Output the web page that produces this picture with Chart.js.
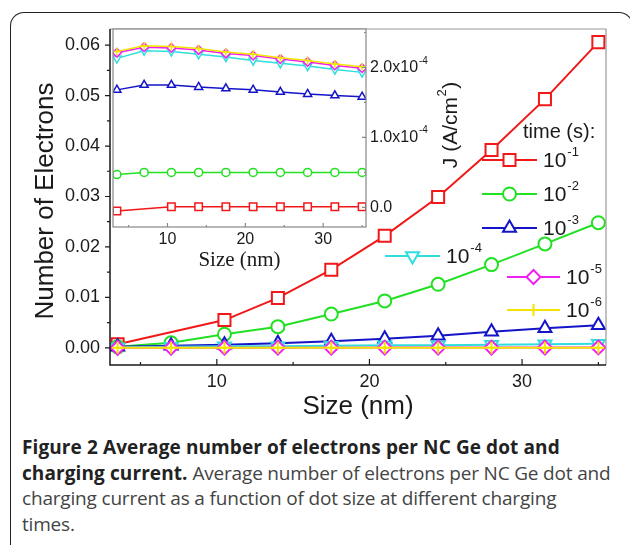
<!DOCTYPE html>
<html>
<head>
<meta charset="utf-8">
<script src="https://cdn.jsdelivr.net/npm/chart.js@4.4.1/dist/chart.umd.min.js"></script>
<style>
  body { margin: 0; background: #fff; width: 630px; height: 545px; overflow: hidden; position: relative; }
  #frame { position: absolute; left: 10px; top: 12px; width: 623px; height: 545px; border: 1.5px solid #222;
           border-bottom: none; border-top-left-radius: 14px; border-top-right-radius: 14px; box-sizing: border-box; }
  canvas { position: absolute; left: 0; top: 0; }
  #caption { position: absolute; left: 22px; top: 435px; font-family: "Open Sans", sans-serif; font-size: 19px;
             line-height: 25.5px; color: #444; white-space: nowrap; letter-spacing: -0.18px; }
  #caption b { color: #222; letter-spacing: 0.1px; }
</style>
</head>
<body>
<div id="frame"></div>
<canvas id="main" width="630" height="420"></canvas>
<canvas id="inset" width="630" height="420"></canvas>
<div id="caption"><b>Figure 2 Average number of electrons per NC Ge dot and<br>charging current.</b> Average number of electrons per NC Ge dot and<br>charging current as a function of dot size at different charging<br>times.</div>
<script>
// dot size (nm)
const sizes = [3.5, 7, 10.5, 14, 17.5, 21, 24.5, 28, 31.5, 35];
// charging time exponents, 10^-1 ... 10^-6 s
const timeExps = ['-1', '-2', '-3', '-4', '-5', '-6'];

// average number of electrons per dot (main plot), null = no point
const elecT1 = [0.0007, null, 0.0055, 0.0099, 0.0155, 0.0222, 0.0299, 0.0392, 0.0493, 0.0606];
const elecT2 = [0.0002, 0.0010, 0.0027, 0.0042, 0.0067, 0.0093, 0.0126, 0.0165, 0.0206, 0.0248];
const elecT3 = [0.0002, 0.0004, 0.0006, 0.0009, 0.0013, 0.0018, 0.0024, 0.0032, 0.0039, 0.0045];
const elecT4 = [0.0001, 0.0002, 0.0003, 0.0003, 0.0004, 0.0005, 0.0005, 0.0006, 0.0007, 0.0008];
const elecT5 = [0.00002, 0.00003, 0.00003, 0.00004, 0.00004, 0.00005, 0.00005, 0.00006, 0.00007, 0.00008];
const elecT6 = [0.0, 0.0, 0.0, 0.0, 0.0, 0.00001, 0.00001, 0.00001, 0.00001, 0.00001];

// charging current J in A/cm^2 (inset)
const currT1 = [-0.05e-4, null, 0.01e-4, 0.01e-4, 0.01e-4, 0.01e-4, 0.01e-4, 0.01e-4, 0.01e-4, 0.01e-4];
const currT2 = [0.47e-4, 0.50e-4, 0.50e-4, 0.50e-4, 0.50e-4, 0.50e-4, 0.50e-4, 0.50e-4, 0.50e-4, 0.50e-4];
const currT3 = [1.68e-4, 1.75e-4, 1.75e-4, 1.72e-4, 1.70e-4, 1.68e-4, 1.65e-4, 1.62e-4, 1.60e-4, 1.58e-4];
const currT4 = [2.13e-4, 2.24e-4, 2.23e-4, 2.19e-4, 2.15e-4, 2.10e-4, 2.06e-4, 2.02e-4, 1.97e-4, 1.93e-4];
const currT5 = [2.21e-4, 2.29e-4, 2.28e-4, 2.25e-4, 2.20e-4, 2.17e-4, 2.12e-4, 2.08e-4, 2.03e-4, 1.99e-4];
const currT6 = [2.23e-4, 2.31e-4, 2.30e-4, 2.27e-4, 2.22e-4, 2.19e-4, 2.14e-4, 2.10e-4, 2.05e-4, 2.01e-4];

const xTicks = [10, 20, 30];
const yTicks = [0, 0.01, 0.02, 0.03, 0.04, 0.05, 0.06];
const jTicks = [0, 1e-4, 2e-4];
const jTickLabels = [['0.0', ''], ['1.0x10', '-4'], ['2.0x10', '-4']];

const elecSeries = [elecT1, elecT2, elecT3, elecT4, elecT5, elecT6];
const currSeries = [currT1, currT2, currT3, currT4, currT5, currT6];

const styles = [
  { color: '#f01818', shape: 'rect', r: 8.5, rot: 0 },
  { color: '#22e022', shape: 'circle', r: 6.5, rot: 0 },
  { color: '#1414c8', shape: 'triangle', r: 7.5, rot: 0 },
  { color: '#30dede', shape: 'triangle', r: 7.5, rot: 180 },
  { color: '#f020f0', shape: 'rectRot', r: 7, rot: 0 },
  { color: '#f2e600', shape: 'cross', r: 6, rot: 0 }
];

const black = '#1a1a1a';
const sans = '"Liberation Sans", Arial, sans-serif';

function makeSet(vals, i, k, lw) {
  const st = styles[i];
  return {
    data: sizes.map((x, j) => ({ x: x, y: vals[j] })).filter(p => p.y !== null),
    borderColor: st.color,
    borderWidth: lw,
    pointStyle: st.shape,
    pointRadius: st.r * k,
    pointRotation: st.rot,
    pointBorderColor: st.color,
    pointBackgroundColor: '#fff',
    pointBorderWidth: lw,
    tension: 0,
    order: 5 - i
  };
}

function drawPow(ctx, base, exp, x, y, size, align) {
  ctx.font = size + 'px ' + sans;
  const bw = ctx.measureText(base).width;
  const ss = Math.round(size * 0.62);
  ctx.font = ss + 'px ' + sans;
  const ew = exp ? ctx.measureText(exp).width + 1 : 0;
  let x0 = x;
  if (align === 'center') x0 = x - (bw + ew) / 2;
  if (align === 'right') x0 = x - bw - ew;
  ctx.textAlign = 'left';
  ctx.textBaseline = 'middle';
  ctx.font = size + 'px ' + sans;
  ctx.fillText(base, x0, y);
  if (exp) {
    ctx.font = ss + 'px ' + sans;
    ctx.fillText(exp, x0 + bw + 1, y - size * 0.42);
  }
}

function marker(ctx, i, x, y, k, lw) {
  const st = styles[i];
  ctx.save();
  ctx.strokeStyle = st.color;
  ctx.fillStyle = '#fff';
  ctx.lineWidth = lw;
  Chart.helpers.drawPoint(ctx, { pointStyle: st.shape, radius: st.r * k, rotation: st.rot, borderWidth: lw }, x, y);
  ctx.restore();
}

// where the hand-placed legend entries sit
const legendSpots = [
  { x1: 482, x2: 537, y: 160 },
  { x1: 482, x2: 537, y: 194 },
  { x1: 482, x2: 537, y: 228 },
  { x1: 385, x2: 440, y: 256 },
  { x1: 507, x2: 560, y: 277 },
  { x1: 507, x2: 560, y: 310 }
];

const mainDeco = {
  id: 'mainDeco',
  afterDatasetsDraw(chart) {
    const ctx = chart.ctx;
    const a = chart.chartArea;
    const xs = chart.scales.x, ys = chart.scales.y;
    ctx.save();
    // box: gray top/right, black left/bottom
    ctx.lineWidth = 1.2;
    ctx.strokeStyle = '#999';
    ctx.beginPath();
    ctx.moveTo(a.left, a.top); ctx.lineTo(a.right, a.top); ctx.lineTo(a.right, a.bottom);
    ctx.stroke();
    ctx.strokeStyle = black;
    ctx.lineWidth = 1.5;
    ctx.beginPath();
    ctx.moveTo(a.left, a.top); ctx.lineTo(a.left, a.bottom); ctx.lineTo(a.right, a.bottom);
    ctx.stroke();
    // ticks
    ctx.lineWidth = 1.2;
    ctx.beginPath();
    [5, 10, 15, 20, 25, 30, 35].forEach(v => {
      const px = xs.getPixelForValue(v);
      ctx.moveTo(px, a.bottom); ctx.lineTo(px, a.bottom - (v % 10 === 0 ? 6 : 3));
    });
    for (let v = 0; v <= 0.0601; v += 0.005) {
      const py = ys.getPixelForValue(v);
      const major = Math.round(v * 1000) % 10 === 0;
      ctx.moveTo(a.left, py); ctx.lineTo(a.left - (major ? 5 : 3), py);
    }
    ctx.stroke();

    // axis titles
    ctx.fillStyle = black;
    ctx.font = '26px ' + sans;
    ctx.textAlign = 'center';
    ctx.textBaseline = 'middle';
    ctx.fillText('Size (nm)', (a.left + a.right) / 2, 407);
    ctx.save();
    ctx.translate(46, 201);
    ctx.rotate(-Math.PI / 2);
    ctx.fillText('Number of Electrons', 0, 0);
    ctx.restore();

    // legend
    ctx.font = '20px ' + sans;
    ctx.textAlign = 'left';
    ctx.fillText('time (s):', 523, 132);
    legendSpots.forEach((sp, i) => {
      ctx.strokeStyle = styles[i].color;
      ctx.lineWidth = 2.2;
      ctx.beginPath();
      ctx.moveTo(sp.x1, sp.y); ctx.lineTo(sp.x2, sp.y);
      ctx.stroke();
      marker(ctx, i, (sp.x1 + sp.x2) / 2, sp.y, 1, 2);
      ctx.fillStyle = black;
      drawPow(ctx, '10', timeExps[i], sp.x2 + 6, sp.y + 1, 21, 'left');
    });
    ctx.restore();
  }
};

const insetDeco = {
  id: 'insetDeco',
  beforeDatasetsDraw(chart) {
    const ctx = chart.ctx, a = chart.chartArea;
    ctx.save();
    ctx.fillStyle = '#fff';
    ctx.fillRect(a.left, a.top, a.right - a.left, a.bottom - a.top);
    ctx.restore();
  },
  afterDatasetsDraw(chart) {
    const ctx = chart.ctx, a = chart.chartArea;
    const xs = chart.scales.x, ys = chart.scales.y;
    ctx.save();
    ctx.strokeStyle = '#888';
    ctx.lineWidth = 1.2;
    ctx.strokeRect(a.left, a.top, a.right - a.left, a.bottom - a.top);
    ctx.beginPath();
    [5, 10, 15, 20, 25, 30, 35].forEach(v => {
      const px = xs.getPixelForValue(v);
      ctx.moveTo(px, a.bottom); ctx.lineTo(px, a.bottom - (v % 10 === 0 ? 4 : 2));
    });
    [0, 0.5e-4, 1e-4, 1.5e-4, 2e-4, 2.5e-4].forEach((v, i) => {
      const py = ys.getPixelForValue(v);
      ctx.moveTo(a.right, py); ctx.lineTo(a.right - (i % 2 === 0 ? 4 : 2), py);
    });
    ctx.stroke();

    ctx.fillStyle = black;
    ctx.font = '16px ' + sans;
    ctx.textAlign = 'center';
    ctx.textBaseline = 'middle';
    xTicks.forEach(v => ctx.fillText(String(v), xs.getPixelForValue(v), 240));
    jTicks.forEach((v, i) => {
      drawPow(ctx, jTickLabels[i][0], jTickLabels[i][1], a.right + 4, ys.getPixelForValue(v), 16, 'left');
    });

    ctx.font = '21px "Liberation Serif", "Times New Roman", serif';
    ctx.textAlign = 'center';
    ctx.fillText('Size (nm)', (a.left + a.right) / 2, 260);

    // J (A/cm^2), rotated
    ctx.save();
    ctx.translate(451, 125);
    ctx.rotate(-Math.PI / 2);
    ctx.font = '21px ' + sans;
    const w1 = ctx.measureText('J (A/cm').width;
    const w3 = ctx.measureText(')').width;
    ctx.font = '13px ' + sans;
    const w2 = ctx.measureText('2').width + 1;
    let x0 = -(w1 + w2 + w3) / 2;
    ctx.textAlign = 'left';
    ctx.font = '21px ' + sans;
    ctx.fillText('J (A/cm', x0, 0);
    ctx.font = '13px ' + sans;
    ctx.fillText('2', x0 + w1 + 0.5, -9);
    ctx.font = '21px ' + sans;
    ctx.fillText(')', x0 + w1 + w2, 0);
    ctx.restore();
    ctx.restore();
  }
};

new Chart(document.getElementById('main'), {
  type: 'line',
  data: { datasets: elecSeries.map((s, i) => makeSet(s, i, 1, 2)) },
  options: {
    responsive: false,
    animation: false,
    events: [],
    layout: { padding: { left: 0, right: 24, top: 29, bottom: 0 } },
    plugins: { legend: { display: false }, tooltip: { enabled: false } },
    scales: {
      x: {
        type: 'linear', min: 3, max: 35.5,
        afterBuildTicks: s => { s.ticks = xTicks.map(v => ({ value: v })); },
        afterFit: s => { s.height = 55; },
        grid: { display: false, drawTicks: false },
        border: { display: false },
        ticks: { padding: 6, color: black, maxRotation: 0, font: { family: sans, size: 18 } }
      },
      y: {
        type: 'linear', min: -0.0034, max: 0.0632,
        afterBuildTicks: s => { s.ticks = yTicks.map(v => ({ value: v })); },
        afterFit: s => { s.width = 110; },
        grid: { display: false, drawTicks: false },
        border: { display: false },
        ticks: { padding: 10, color: black, font: { family: sans, size: 18 }, callback: v => v.toFixed(2) }
      }
    }
  },
  plugins: [mainDeco]
});

new Chart(document.getElementById('inset'), {
  type: 'line',
  data: { datasets: currSeries.map((s, i) => makeSet(s, i, 0.62, 1.5)) },
  options: {
    responsive: false,
    animation: false,
    events: [],
    layout: { padding: { left: 113, right: 264, top: 29, bottom: 193 } },
    plugins: { legend: { display: false }, tooltip: { enabled: false } },
    scales: {
      x: { type: 'linear', display: false, min: 3, max: 35.5 },
      y: { type: 'linear', display: false, min: -0.28e-4, max: 2.55e-4 }
    }
  },
  plugins: [insetDeco]
});
</script>
</body>
</html>
